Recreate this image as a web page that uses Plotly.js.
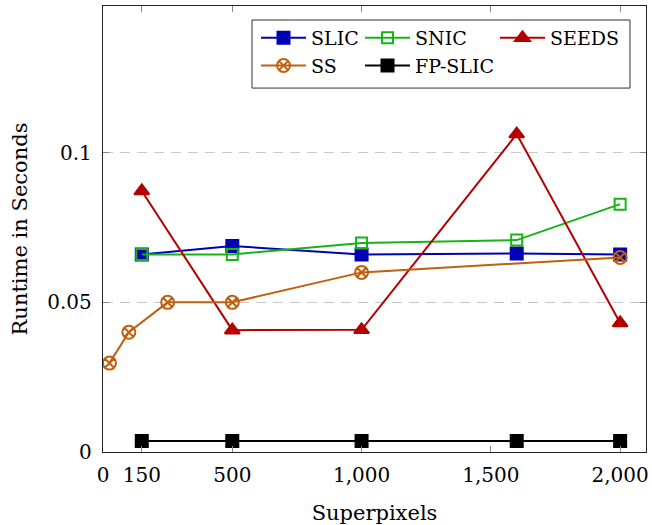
<!DOCTYPE html>
<html>
<head>
<meta charset="utf-8">
<script src="https://cdn.plot.ly/plotly-3.0.1.min.js"></script>
<style>html,body{margin:0;padding:0;background:#fff;}#chart{width:652px;height:525px;}</style>
</head>
<body>
<div id="chart"></div>
<script>
// Data
const slicX = [150, 500, 1000, 1600, 2000];
const slicY = [0.066, 0.0688, 0.066, 0.0663, 0.066];
const snicX = [150, 500, 1000, 1600, 2000];
const snicY = [0.066, 0.066, 0.0698, 0.0708, 0.0828];
const seedsX = [150, 500, 1000, 1600, 2000];
const seedsY = [0.0872, 0.0407, 0.0408, 0.1062, 0.0431];
const ssX = [25, 100, 250, 500, 1000, 2000];
const ssY = [0.0297, 0.040, 0.050, 0.050, 0.060, 0.065];
const fpX = [150, 500, 1000, 1600, 2000];
const fpY = [0.0037, 0.0037, 0.0037, 0.0037, 0.0037];
const xTickVals = [0, 150, 500, 1000, 1500, 2000];
const xTickText = ["0", "150", "500", "1,000", "1,500", "2,000"];
const yTickVals = [0, 0.05, 0.1];
const yTickText = ["0", "0.05", "0.1"];

const serif = "DejaVu Serif";

function tr(name, x, y, color, symbol, size, legend) {
  return {
    type: 'scatter', mode: 'lines+markers', name: name, x: x, y: y, legend: legend,
    line: {color: color, width: 2},
    marker: {symbol: symbol, size: size, color: color, line: {color: color, width: 2}}
  };
}

const data = [
  tr('SLIC', slicX, slicY, '#0000b4', 'square', 12, 'legend'),
  tr('SNIC', snicX, snicY, '#16b416', 'square-open', 11, 'legend2'),
  tr('SEEDS', seedsX, seedsY, '#b40000', 'triangle-up', 13, 'legend3'),
  tr('SS', ssX, ssY, '#c0600c', 'circle-x-open', 13, 'legend'),
  tr('FP-SLIC', fpX, fpY, '#000000', 'square', 12, 'legend2')
];

function leg(x) {
  return {
    orientation: 'v', x: x, y: 0.971, xanchor: 'left', yanchor: 'top',
    borderwidth: 0, bgcolor: 'rgba(0,0,0,0)', itemwidth: 45, tracegroupgap: 0,
    font: {family: serif, size: 19, color: '#000'}
  };
}

const layout = {
  width: 652, height: 525,
  margin: {l: 103, r: 6, t: 6, b: 73, autoexpand: false},
  paper_bgcolor: '#fff', plot_bgcolor: '#fff',
  font: {family: serif, color: '#000', size: 20},
  showlegend: true,
  legend: leg(0.2818),
  legend2: leg(0.4733),
  legend3: leg(0.7219),
  shapes: [{
    type: 'rect', xref: 'paper', yref: 'paper', layer: 'above',
    x0: 0.2744, x1: 0.9705, y0: 0.816, y1: 0.9686,
    line: {color: '#333', width: 1}, fillcolor: '#fff'
  }],
  xaxis: {
    range: [0, 2100], tickmode: 'array', tickvals: xTickVals, ticktext: xTickText,
    showline: true, linecolor: '#222', linewidth: 1.2, mirror: 'ticks',
    ticks: 'inside', ticklen: 6, tickcolor: '#888', tickwidth: 1,
    ticklabelstandoff: 5,
    showgrid: false, zeroline: false,
    tickfont: {family: serif, size: 20},
    title: {text: 'Superpixels', font: {family: serif, size: 21}, standoff: 19}
  },
  yaxis: {
    range: [0, 0.149], tickmode: 'array', tickvals: yTickVals, ticktext: yTickText,
    showline: true, linecolor: '#222', linewidth: 1.2, mirror: 'ticks',
    ticks: 'inside', ticklen: 6, tickcolor: '#888', tickwidth: 1,
    ticklabelstandoff: 6,
    showgrid: true, gridcolor: '#c8c8c8', griddash: '10px,7px', gridwidth: 1,
    zeroline: false,
    tickfont: {family: serif, size: 20},
    title: {text: 'Runtime in Seconds', font: {family: serif, size: 21}, standoff: 14}
  }
};

Plotly.newPlot('chart', data, layout, {displayModeBar: false, staticPlot: true});
</script>
</body>
</html>
